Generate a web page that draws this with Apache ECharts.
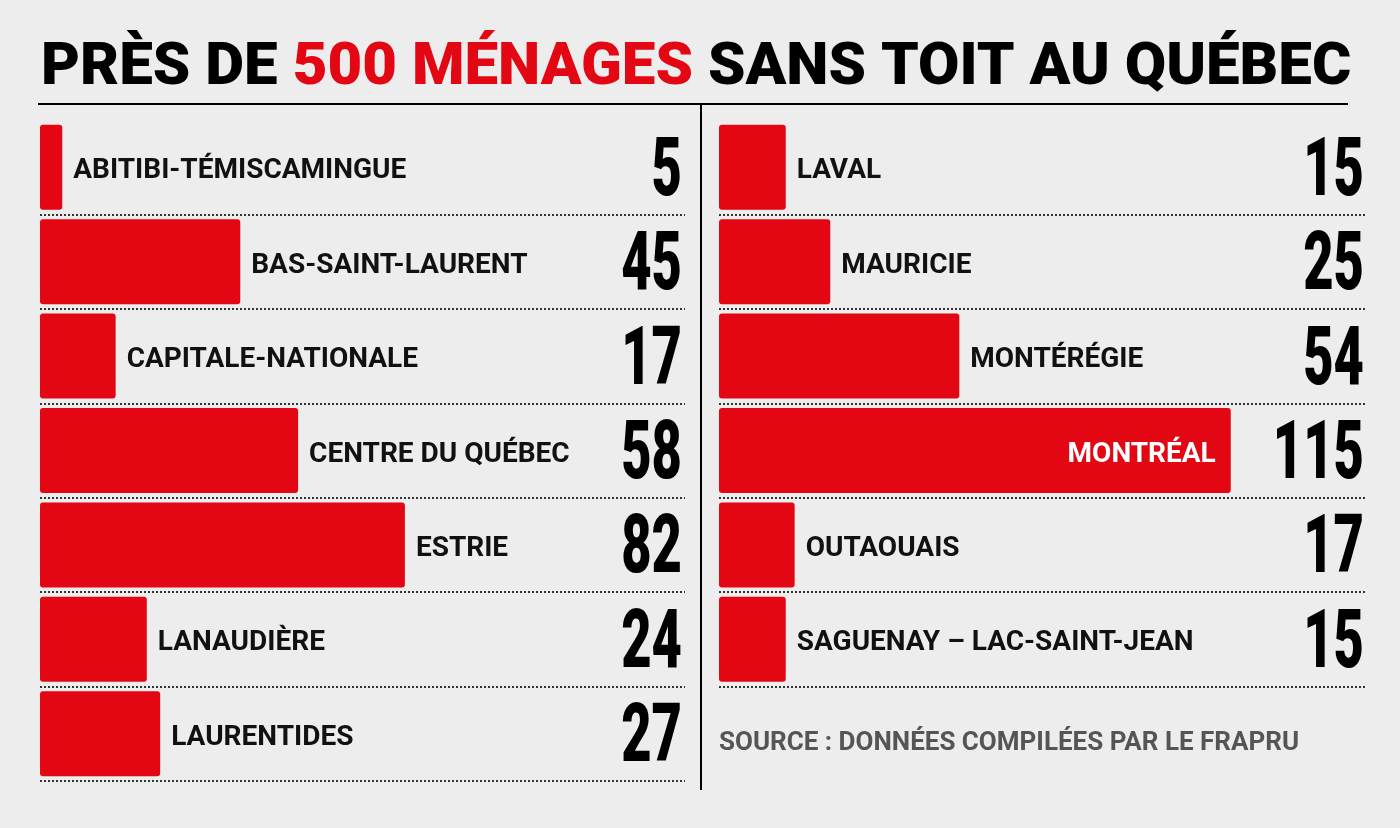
<!DOCTYPE html>
<html>
<head>
<meta charset="utf-8">
<script src="https://cdn.jsdelivr.net/npm/echarts@6/dist/echarts.min.js"></script>
<style>
html,body{margin:0;padding:0;background:#ededed;}
#c{width:1400px;height:828px;}
</style>
</head>
<body>
<div id="c"></div>
<script>
const titleStart = 'PRÈS DE ';
const titleHighlight = '500 MÉNAGES';
const titleEnd = ' SANS TOIT AU QUÉBEC';
const sourceText = 'SOURCE : DONNÉES COMPILÉES PAR LE FRAPRU';

const leftCategories = ['ABITIBI-TÉMISCAMINGUE', 'BAS-SAINT-LAURENT', 'CAPITALE-NATIONALE', 'CENTRE DU QUÉBEC', 'ESTRIE', 'LANAUDIÈRE', 'LAURENTIDES'];
const leftValues = [5, 45, 17, 58, 82, 24, 27];
const rightCategories = ['LAVAL', 'MAURICIE', 'MONTÉRÉGIE', 'MONTRÉAL', 'OUTAOUAIS', 'SAGUENAY – LAC-SAINT-JEAN'];
const rightValues = [15, 25, 54, 115, 17, 15];
const insideLabelCategory = 'MONTRÉAL';

const RED = '#e30613';
const pxPerUnit = 4.45;
const rowH = 661 / 7;
const labelFont = 'Roboto, "Open Sans", sans-serif';

const chart = echarts.init(document.getElementById('c'), null, {renderer: 'canvas'});

const grids = [
  {left: 40, top: 120, width: 645, height: rowH * 7},
  {left: 719, top: 120, width: 648, height: rowH * 6}
];

function yAxisFor(idx, cats) {
  return {
    type: 'category', gridIndex: idx, inverse: true, data: cats,
    axisLine: {show: false}, axisTick: {show: false}, axisLabel: {show: false},
    splitLine: {show: true, interval: 0, showMinLine: false, lineStyle: {type: [2, 2], color: '#333', width: 2}}
  };
}

function barSeries(idx, cats, vals) {
  return {
    type: 'bar', xAxisIndex: idx, yAxisIndex: idx, barCategoryGap: '10%',
    itemStyle: {color: RED, borderRadius: 3},
    label: {show: true, position: 'right', distance: 11, offset: [0, 4], formatter: '{b}',
      fontFamily: labelFont, fontWeight: 'bold', fontSize: 28, color: '#111'},
    data: cats.map((c, i) => {
      const d = {name: c, value: vals[i]};
      if (c === insideLabelCategory) d.label = {position: 'insideRight', distance: 15, color: '#fff'};
      return d;
    }),
    animation: false
  };
}

function numberSeries(idx, cats, vals) {
  return {
    type: 'custom', xAxisIndex: idx, yAxisIndex: idx, silent: true,
    data: cats.map((c, i) => [vals[i], i]),
    encode: {x: 0, y: 1},
    renderItem: (params, api) => {
      const cs = params.coordSys;
      const y = api.coord([0, api.value(1)])[1];
      return {
        type: 'text', x: cs.x + cs.width - 3, y: y + 7, scaleX: 0.64,
        style: {text: String(api.value(0)), textAlign: 'right', textVerticalAlign: 'middle',
          fontFamily: 'Roboto', fontWeight: 900, fontSize: 82, fill: '#000'}
      };
    },
    animation: false
  };
}

chart.setOption({
  backgroundColor: '#ededed',
  animation: false,
  title: [{
    left: 36, top: 34,
    text: '{a|' + titleStart + '}{b|' + titleHighlight + '}{a|' + titleEnd + '}',
    textStyle: {
      rich: {
        a: {fontFamily: 'Roboto', fontWeight: 900, fontSize: 60, color: '#000'},
        b: {fontFamily: 'Roboto', fontWeight: 900, fontSize: 60, color: RED}
      }
    }
  }],
  grid: grids,
  xAxis: grids.map((g, i) => ({type: 'value', gridIndex: i, min: 0, max: g.width / pxPerUnit, show: false})),
  yAxis: [yAxisFor(0, leftCategories), yAxisFor(1, rightCategories)],
  series: [
    barSeries(0, leftCategories, leftValues), barSeries(1, rightCategories, rightValues),
    numberSeries(0, leftCategories, leftValues), numberSeries(1, rightCategories, rightValues)
  ],
  graphic: [
    {type: 'line', shape: {x1: 38, y1: 104, x2: 1348, y2: 104}, style: {stroke: '#000', lineWidth: 2}},
    {type: 'line', shape: {x1: 701, y1: 104, x2: 701, y2: 790}, style: {stroke: '#000', lineWidth: 2}},
    {type: 'text', left: 719, top: 730, style: {text: sourceText, fontFamily: labelFont, fontWeight: 'bold', fontSize: 26, fill: '#555'}}
  ]
});
</script>
</body>
</html>
